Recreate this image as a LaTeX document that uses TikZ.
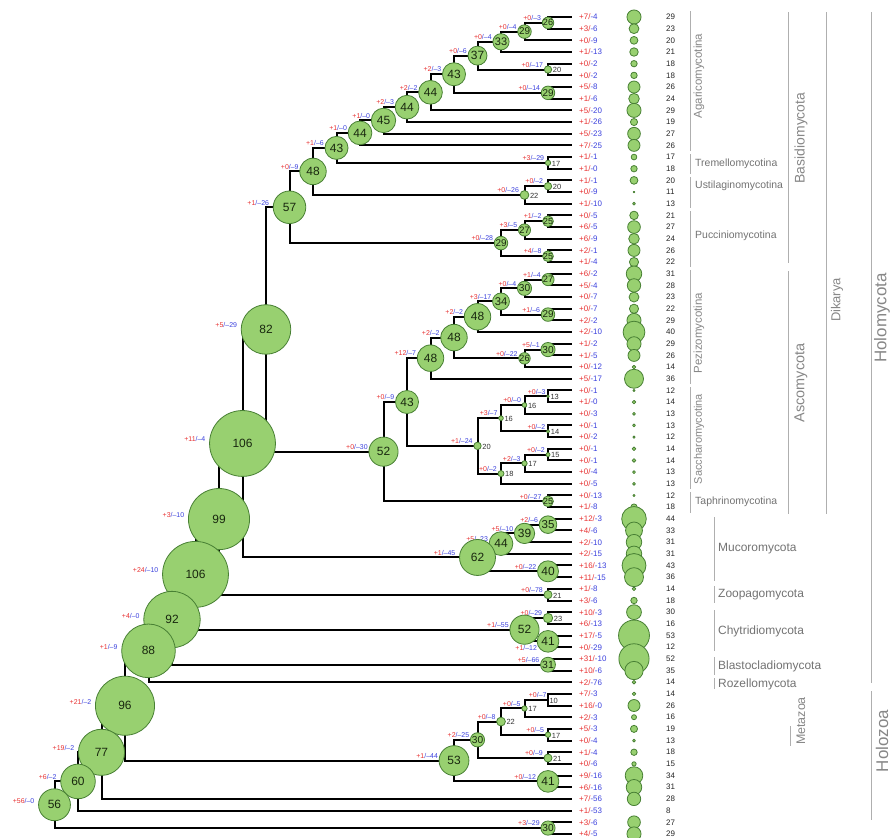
\documentclass[tikz,border=0pt]{standalone}
\usepackage{fontspec}
\setmainfont{Liberation Sans}
\usetikzlibrary{calc}
\pgfdeclarelayer{bg}
\pgfsetlayers{bg,main}
\definecolor{gainred}{RGB}{232,50,50}
\definecolor{lossblue}{RGB}{60,66,222}
\definecolor{nfill}{RGB}{152,208,112}
\definecolor{nedge}{RGB}{72,128,52}
\definecolor{numcol}{RGB}{25,40,15}
\definecolor{smallcol}{RGB}{50,50,50}
\definecolor{annline}{RGB}{175,175,175}
\definecolor{anntext}{RGB}{135,135,135}
\definecolor{subtext}{RGB}{115,115,115}
\newcommand\GL[2]{\textcolor{gainred}{+#1}\textcolor{lossblue}{/–#2}}
\newcommand\TL[2]{\textcolor{gainred}{+#1/}\textcolor{lossblue}{-#2}}
% optional a/b, name, child1, child2, height, value, gain, loss
\newcommand\IN[8][a]{%
  \path let \p1=(#3), \p2=(#4) in ({(571.5-23.5*#5)*1bp},{0.5*(\y1+\y2)}) coordinate (#2);
  \begin{pgfonlayer}{bg}\draw[br] (#3) -| (#2) |- (#4);\end{pgfonlayer}
  \pgfmathsetmacro\rr{max(0.34*(#6-10)+0.3,0)}%
  \pgfmathsetmacro\fs{min(12,4.5+0.8*\rr)}%
  \ifnum#6>10 \path[circ] (#2) circle[radius=\rr];\fi
  \ifnum#6>24
    \node[inner sep=0pt, text=numcol, font=\fontsize{\fs}{\fs}\selectfont] (#2v) at (#2) {#6};
  \else
    \node[inner sep=0pt, anchor=west, text=smallcol, font=\fontsize{7.5}{8}\selectfont] (#2v) at ($(#2)+({\rr+1},0.8)$) {#6};
  \fi
  \if#1b
    \node[glab, anchor=north east] (#2g) at ($(#2)+({-\rr},4)$) {\GL{#7}{#8}};
  \else\ifdim\rr pt<15pt
    \node[glab, anchor=south east] (#2g) at ($(#2)+({-\rr-1},-2)$) {\GL{#7}{#8}};
  \else
    \node[glab, anchor=east] (#2g) at ($(#2)+({-\rr-4},-4)$) {\GL{#7}{#8}};
  \fi\fi
}
\begin{document}
\begin{tikzpicture}[x=1bp,y=-1bp,line join=round,
  br/.style={line width=2bp,black},
  circ/.style={fill=nfill,draw=nedge,line width=0.8bp},
  glab/.style={inner sep=0pt,font=\fontsize{7}{8}\selectfont},
  tiplab/.style={inner sep=0pt,anchor=west,font=\fontsize{8}{9}\selectfont},
  cntlab/.style={inner sep=0pt,anchor=west,text=black!85,font=\fontsize{8}{9}\selectfont},
  aline/.style={draw=annline,line width=1bp},
  rtext/.style={rotate=90,text=anntext,inner sep=0pt},
  htext/.style={anchor=west,text=subtext,inner sep=0pt}]
\begin{pgfonlayer}{bg}
\fill[white] (0,0) rectangle (893,838);
\end{pgfonlayer}
\useasboundingbox (0,0) rectangle (893,838);
\foreach \i in {1,...,71} \coordinate (L\i) at (571.5,{17+11.67*(\i-1)});
% Basidiomycota
\IN{A26}{L1}{L2}{1}{26}{0}{3}
\IN{A29}{A26}{L3}{2}{29}{0}{4}
\IN{A33}{A29}{L4}{3}{33}{0}{4}
\IN{A20}{L5}{L6}{1}{20}{0}{17}
\IN{A37}{A33}{A20}{4}{37}{0}{6}
\IN{A29b}{L7}{L8}{1}{29}{0}{14}
\IN{A43}{A37}{A29b}{5}{43}{2}{3}
\IN{A44a}{A43}{L9}{6}{44}{2}{2}
\IN{A44b}{A44a}{L10}{7}{44}{2}{3}
\IN{A45}{A44b}{L11}{8}{45}{1}{0}
\IN{A44c}{A45}{L12}{9}{44}{1}{0}
\IN{T17}{L13}{L14}{1}{17}{3}{29}
\IN{A43b}{A44c}{T17}{10}{43}{1}{6}
\IN{U20}{L15}{L16}{1}{20}{0}{2}
\IN{U22}{U20}{L17}{2}{22}{0}{26}
\IN{B48}{A43b}{U22}{11}{48}{0}{9}
\IN{P25a}{L18}{L19}{1}{25}{1}{2}
\IN{P27}{P25a}{L20}{2}{27}{3}{5}
\IN{P25b}{L21}{L22}{1}{25}{4}{8}
\IN{P29}{P27}{P25b}{3}{29}{0}{28}
\IN{B57}{B48}{P29}{12}{57}{1}{26}
% Ascomycota
\IN{Z27}{L23}{L24}{1}{27}{1}{4}
\IN{Z30}{Z27}{L25}{2}{30}{0}{4}
\IN{Z29}{L26}{L27}{1}{29}{1}{6}
\IN{Z34}{Z30}{Z29}{3}{34}{3}{17}
\IN{Z48c}{Z34}{L28}{4}{48}{2}{2}
\IN{Z30b}{L29}{L30}{1}{30}{5}{1}
\IN{Z26}{Z30b}{L31}{2}{26}{0}{22}
\IN{Z48b}{Z48c}{Z26}{5}{48}{2}{2}
\IN{Z48a}{Z48b}{L32}{6}{48}{12}{7}
\IN{S13}{L33}{L34}{1}{13}{0}{3}
\IN{S16a}{S13}{L35}{2}{16}{0}{0}
\IN{S14}{L36}{L37}{1}{14}{0}{2}
\IN{S16b}{S16a}{S14}{3}{16}{3}{7}
\IN{S15}{L38}{L39}{1}{15}{0}{2}
\IN{S17}{S15}{L40}{2}{17}{2}{3}
\IN{S18}{S17}{L41}{3}{18}{0}{2}
\IN{S20}{S16b}{S18}{4}{20}{1}{24}
\IN{Z43}{Z48a}{S20}{7}{43}{0}{9}
\IN{Ta25}{L42}{L43}{1}{25}{0}{27}
\IN{Z52}{Z43}{Ta25}{8}{52}{0}{30}
\IN{N82}{B57}{Z52}{13}{82}{5}{29}
% Mucoromycota etc.
\IN{M35}{L44}{L45}{1}{35}{2}{6}
\IN{M39}{M35}{L46}{2}{39}{5}{10}
\IN{M44}{M39}{L47}{3}{44}{5}{23}
\IN{M40}{L48}{L49}{1}{40}{0}{22}
\IN{M62}{M44}{M40}{4}{62}{1}{45}
\IN{N106a}{N82}{M62}{14}{106}{11}{4}
\IN{Zo21}{L50}{L51}{1}{21}{0}{78}
\IN{N99}{N106a}{Zo21}{15}{99}{3}{10}
\IN{C23}{L52}{L53}{1}{23}{0}{29}
\IN[b]{C41}{L54}{L55}{1}{41}{1}{12}
\IN{C52}{C23}{C41}{2}{52}{1}{55}
\IN{N106b}{N99}{C52}{16}{106}{24}{10}
\IN{Bl31}{L56}{L57}{1}{31}{5}{66}
\IN{N92}{N106b}{Bl31}{17}{92}{4}{0}
\IN{N88}{N92}{L58}{18}{88}{1}{9}
% Holozoa
\IN{H10}{L59}{L60}{1}{10}{0}{7}
\IN{H17}{H10}{L61}{2}{17}{0}{5}
\IN{H17b}{L62}{L63}{1}{17}{0}{5}
\IN{H22}{H17}{H17b}{3}{22}{0}{8}
\IN{H21}{L64}{L65}{1}{21}{0}{9}
\IN{H30}{H22}{H21}{4}{30}{2}{25}
\IN{H41}{L66}{L67}{1}{41}{0}{12}
\IN{H53}{H30}{H41}{5}{53}{1}{44}
\IN{N96}{N88}{H53}{19}{96}{21}{2}
\IN{N77}{N96}{L68}{20}{77}{19}{2}
\IN{N60}{N77}{L69}{21}{60}{6}{2}
\IN{Q30}{L70}{L71}{1}{30}{3}{29}
\IN{N56}{N60}{Q30}{22}{56}{56}{0}
% tips
\foreach \i/\g/\l/\c in {1/7/4/29, 2/3/6/23, 3/0/9/20, 4/1/13/21, 5/0/2/18, 6/0/2/18, 7/5/8/26, 8/1/6/24, 9/5/20/29, 10/1/26/19, 11/5/23/27, 12/7/25/26, 13/1/1/17, 14/1/0/18, 15/1/1/20, 16/0/9/11, 17/1/10/13, 18/0/5/21, 19/6/5/27, 20/6/9/24, 21/2/1/26, 22/1/4/22, 23/6/2/31, 24/5/4/28, 25/0/7/23, 26/0/7/22, 27/2/2/29, 28/2/10/40, 29/1/2/29, 30/1/5/26, 31/0/12/14, 32/5/17/36, 33/0/1/12, 34/1/0/14, 35/0/3/13, 36/0/1/13, 37/0/2/12, 38/0/1/14, 39/0/1/14, 40/0/4/13, 41/0/5/13, 42/0/13/12, 43/1/8/18, 44/12/3/44, 45/4/6/33, 46/2/10/31, 47/2/15/31, 48/16/13/43, 49/11/15/36, 50/1/8/14, 51/3/6/18, 52/10/3/30, 53/6/13/16, 54/17/5/53, 55/0/29/12, 56/31/10/52, 57/10/6/35, 58/2/76/14, 59/7/3/14, 60/16/0/26, 61/2/3/16, 62/5/3/19, 63/0/4/13, 64/1/4/18, 65/0/6/15, 66/9/16/34, 67/6/16/31, 68/7/56/28, 69/1/53/8, 70/3/6/27, 71/4/5/29}{
  \node[tiplab] (g\i) at (579,{17+11.67*(\i-1)}) {\TL{\g}{\l}};
  \node[cntlab] (k\i) at (666,{17+11.67*(\i-1)}) {\c};
  \ifnum\c>10
    \pgfmathsetmacro\rr{0.35*(\c-10)+0.4}
    \path[circ] (634,{17+11.67*(\i-1)}) circle[radius=\rr];
  \fi
}
% annotation lines
\draw[aline] (690,11) -- (690,151);
\draw[aline] (690,154) -- (690,174);
\draw[aline] (690,177) -- (690,208);
\draw[aline] (690,211) -- (690,267);
\draw[aline] (690,270) -- (690,384);
\draw[aline] (690,387) -- (690,489);
\draw[aline] (690,492) -- (690,513);
\draw[aline] (714,517) -- (714,581);
\draw[aline] (714,586) -- (714,603);
\draw[aline] (714,610) -- (714,651);
\draw[aline] (714,657) -- (714,675);
\draw[aline] (714,678) -- (714,689);
\draw[aline] (788,12) -- (788,263);
\draw[aline] (788,271) -- (788,514);
\draw[aline] (826,12) -- (826,514);
\draw[aline] (871,12) -- (871,683);
\draw[aline] (871,691) -- (871,820);
\draw[aline] (790,726) -- (790,746);
% annotation texts
\node[rtext,font=\fontsize{11.5}{12}\selectfont] (agar) at (699,76) {Agaricomycotina};
\node[htext,font=\fontsize{10.5}{12}\selectfont] (trem) at (695,164) {Tremellomycotina};
\node[htext,font=\fontsize{10.5}{12}\selectfont] (usti) at (695,186) {Ustilaginomycotina};
\node[htext,font=\fontsize{10.5}{12}\selectfont] (pucc) at (695,236) {Pucciniomycotina};
\node[rtext,font=\fontsize{11.5}{12}\selectfont] (pezi) at (699,333) {Pezizomycotina};
\node[rtext,font=\fontsize{11}{12}\selectfont] (sacc) at (699,439) {Saccharomycotina};
\node[htext,font=\fontsize{10.5}{12}\selectfont] (taph) at (695,502) {Taphrinomycotina};
\node[htext,font=\fontsize{12}{13}\selectfont] (muco) at (718,549) {Mucoromycota};
\node[htext,font=\fontsize{12}{13}\selectfont] (zoop) at (718,595) {Zoopagomycota};
\node[htext,font=\fontsize{12}{13}\selectfont] (chyt) at (718,631) {Chytridiomycota};
\node[htext,font=\fontsize{12}{13}\selectfont] (blas) at (718,666) {Blastocladiomycota};
\node[htext,font=\fontsize{12}{13}\selectfont] (roze) at (718,684) {Rozellomycota};
\node[rtext,font=\fontsize{14}{15}\selectfont] (basi) at (801,138) {Basidiomycota};
\node[rtext,font=\fontsize{14.5}{15}\selectfont] (asco) at (801,383) {Ascomycota};
\node[rtext,font=\fontsize{13}{14}\selectfont] (dika) at (837,300) {Dikarya};
\node[rtext,font=\fontsize{17}{18}\selectfont] (holm) at (882,318) {Holomycota};
\node[rtext,font=\fontsize{17}{18}\selectfont] (holz) at (882,741) {Holozoa};
\node[rtext,font=\fontsize{12.5}{13}\selectfont] (meta) at (801,721) {Metazoa};
\end{tikzpicture}
\end{document}
